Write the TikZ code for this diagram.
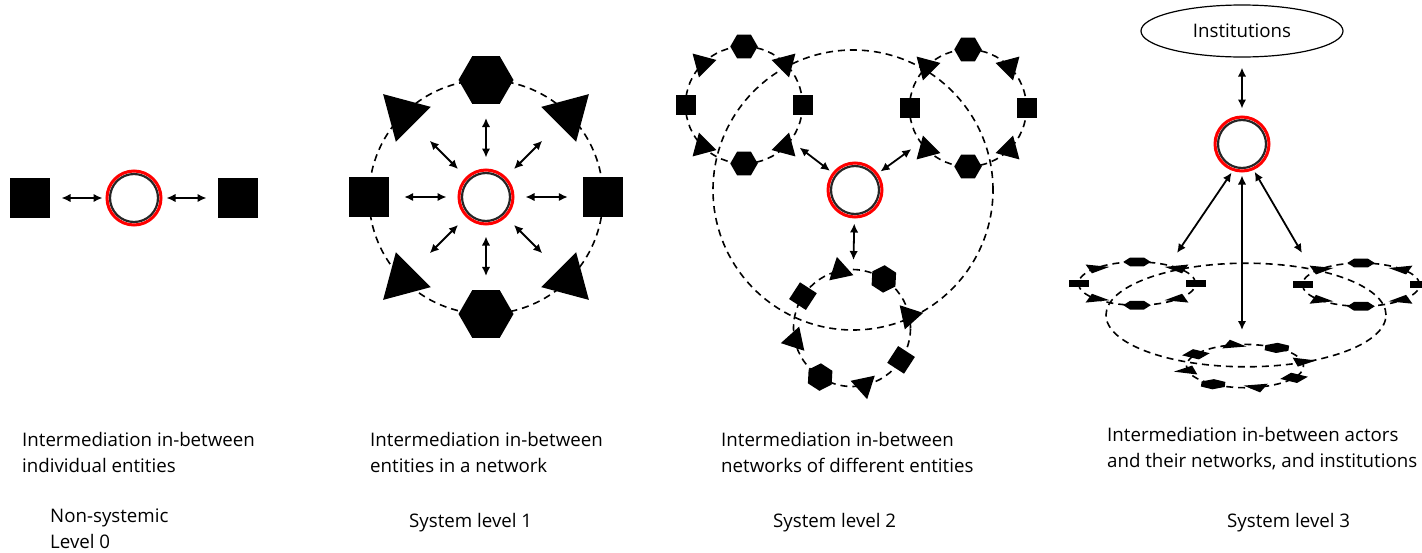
\documentclass[tikz,border=0pt]{standalone}
\usepackage{fontspec}
\setmainfont{Open Sans}
\usepackage{tikz}
\usetikzlibrary{arrows.meta}
\usetikzlibrary{positioning,shapes}

% one network: dashed ring with eight entities, #1 name prefix, #2 rotation
\newcommand{\netring}[2]{%
  \coordinate (#1c) at (0,0);
  \draw [ring] (0,0) circle [radius=117pt];
  \foreach \k/\s in {0/hexa,1/tri,2/sq,3/tri,4/hexa,5/tri,6/sq,7/tri} {
    \pgfmathsetmacro{\ang}{90-45*\k+(#2)}
    \node [\s, rotate=\ang-90] (#1\k) at (\ang:117pt) {};
  }%
}
% three networks on a large dashed ring
\newcommand{\netsystem}[1]{%
  \draw [ring] (0,0) circle [radius=280pt];
  \begin{scope}[shift={(-218,-170)}]\netring{#1l}{0}\end{scope}
  \begin{scope}[shift={(230,-164)}]\netring{#1r}{0}\end{scope}
  \begin{scope}[shift={(-2,276)}]\netring{#1b}{-33}\end{scope}%
}
\newcommand{\lblfont}{\fontsize{18.7}{25.5}\selectfont}

\begin{document}
\begin{tikzpicture}[%
        x=1pt, y=-1pt,
        every node/.style={inner sep=0pt},
        hexa/.style={regular polygon, regular polygon sides=6, fill=black, minimum size=55pt},
        tri/.style={regular polygon, regular polygon sides=3, fill=black, minimum size=57pt},
        sq/.style={rectangle, fill=black, minimum size=40pt},
        hub/.style={circle, draw=red, line width=3pt, fill=white, minimum size=54pt,
          path picture={\draw [black!85, line width=2.2pt] (path picture bounding box.center) circle [radius=24pt];}},
        inst/.style={ellipse, draw, line width=1.2pt, minimum width=202pt, minimum height=52pt, font=\lblfont},
        ring/.style={line width=1.6pt, dash pattern=on 7pt off 5pt},
        link/.style={<->, line width=1.8pt},
        lbl/.style={align=left, anchor=base west, text=black, font=\lblfont},
        >={Latex[length=9pt,width=8.5pt]}
      ]
      \useasboundingbox (0,0) rectangle (1422,552);

      % level 0
      \node [hub] (hub0) at (134,198) {};
      \node [sq, left=55pt of hub0] (e0) {};
      \node [sq, right=55pt of hub0] (e1) {};
      \draw [link, shorten <=11pt, shorten >=3pt] (e0) -- (hub0);
      \draw [link, shorten <=11pt, shorten >=4pt] (e1) -- (hub0);

      % level 1
      \begin{scope}[shift={(486,197)}]
        \netring{a}{0}
      \end{scope}
      \node [hub] (hub1) at (486,197) {};
      \foreach \k/\g in {0/14,1/23,2/15,3/23,4/14,5/23,6/15,7/23}
        \draw [link, shorten <=11pt, shorten >=\g pt] (hub1) -- (a\k);

      % level 2
      \begin{scope}[shift={(853,190)}, scale=0.5, transform shape]
        \netsystem{b}
      \end{scope}
      \node [hub] (hub2) at (855,190) {};
      \draw [link, shorten <=3pt, shorten >=70pt] (hub2) -- (blc);
      \draw [link, shorten <=3pt, shorten >=70pt] (hub2) -- (brc);
      \draw [link, shorten <=5pt, shorten >=68pt] (hub2) -- (bbc);

      % level 3
      \begin{scope}[shift={(1246,315)}, xscale=0.5, yscale=0.185, transform shape]
        \netsystem{c}
      \end{scope}
      \node [hub] (hub3) at (1242,144) {};
      \node [inst] (inst) at (1242,31) {Institutions};
      \coordinate (tipl) at (1177,253);
      \coordinate (tipr) at (1302,253);
      \coordinate (tipb) at (1242,330);
      \draw [link, shorten <=10pt, shorten >=7pt] (inst) -- (hub3);
      \draw [link, shorten <=2pt] (hub3.251) -- (tipl);
      \draw [link, shorten <=2pt] (hub3.294) -- (tipr);
      \draw [link, shorten <=3pt] (hub3) -- (tipb);

      % captions (base = last line)
      \node [lbl] (t0) at (22,472) {Intermediation in-between\\individual entities};
      \node [lbl] (n0) at (50,548) {Non-systemic\\Level 0};
      \node [lbl] (t1) at (370,472) {Intermediation in-between\\entities in a network};
      \node [lbl] (n1) at (409,527) {System level 1};
      \node [lbl] (t2) at (721,472) {Intermediation in-between\\networks of different entities};
      \node [lbl] (n2) at (773,527) {System level 2};
      \node [lbl] (t3) at (1107,467) {Intermediation in-between actors\\and their networks, and institutions};
      \node [lbl] (n3) at (1227,527) {System level 3};
    \end{tikzpicture}
\end{document}
